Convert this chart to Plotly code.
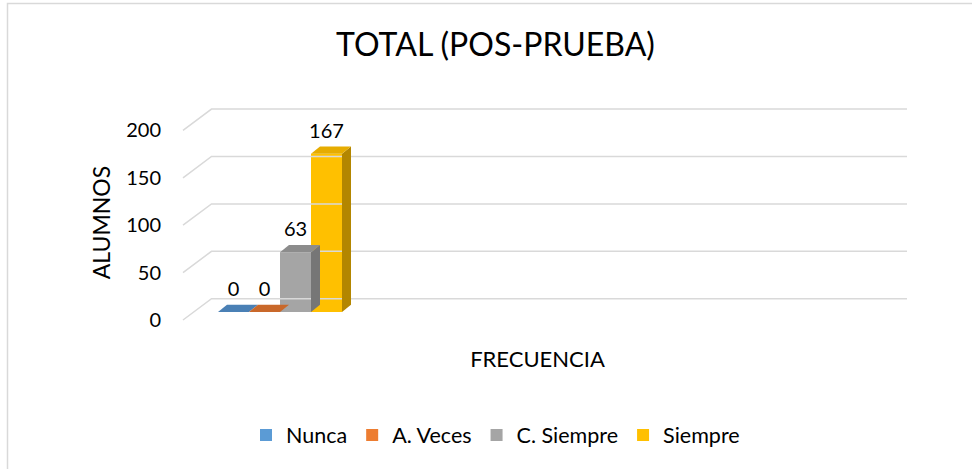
import plotly.graph_objects as go

# ---- data ----
series = ["Nunca", "A. Veces", "C. Siempre", "Siempre"]
values = [0, 0, 63, 167]
category = "FRECUENCIA"
y_ticks = [0, 50, 100, 150, 200]

# ---- styles ----
front_colors = ["#5B9BD5", "#ED7D31", "#A5A5A5", "#FFC000"]
top_colors = ["#4A80B5", "#C9682A", "#8C8C8C", "#E6AC00"]
side_colors = ["#3E6C99", "#A85723", "#767676", "#B38600"]
FONT = "Lato"

W, H = 972, 469
L_PX, R_PX = 168, 907          # plot area (x data == pixel)
T_PX, B_PX = 105, 340          # plot area top/bottom pixels
BASE_PX = 312                   # pixel of value 0 at bar front
K = 0.948                       # pixels per unit
y_range = [(BASE_PX - B_PX) / K, (BASE_PX - T_PX) / K]

GROUP_CENTER = 280
BAR_W = 31
DX = 9                         # depth offset (px)
DV = 7.3 / K                   # depth offset (units)
LABEL_DV = 3.5 / K
BACK_DV = (BASE_PX - 298.7) / K
FRONT_DV = (BASE_PX - 320) / K
GRID_FRONT_X, GRID_BACK_X, GRID_END_X = 183, 211.5, R_PX

fig = go.Figure()

# gridlines (3D wall + floor style)
for t in y_ticks:
    fig.add_trace(go.Scatter(
        x=[GRID_FRONT_X, GRID_BACK_X, GRID_END_X],
        y=[t + FRONT_DV, t + BACK_DV, t + BACK_DV],
        mode="lines", line=dict(color="#D9D9D9", width=1.5),
        hoverinfo="skip", showlegend=False))

centers = [GROUP_CENTER + (i - (len(series) - 1) / 2) * BAR_W for i in range(len(series))]

for i, (name, v) in enumerate(zip(series, values)):
    c = centers[i]
    xl, xr = c - BAR_W / 2, c + BAR_W / 2
    # front face
    fig.add_trace(go.Bar(
        x=[c], y=[v], width=BAR_W, name=name,
        marker=dict(color=front_colors[i], line=dict(width=0)),
        showlegend=True, hoverinfo="skip"))
    # side face
    if v > 0:
        fig.add_trace(go.Scatter(
            x=[xr, xr, xr + DX, xr + DX, xr], y=[0, v, v + DV, DV, 0],
            fill="toself", fillcolor=side_colors[i], mode="lines",
            line=dict(width=0, color=side_colors[i]),
            hoverinfo="skip", showlegend=False))
    # top face
    fig.add_trace(go.Scatter(
        x=[xl, xr, xr + DX, xl + DX, xl], y=[v, v, v + DV, v + DV, v],
        fill="toself", fillcolor=top_colors[i], mode="lines",
        line=dict(width=0, color=top_colors[i]),
        hoverinfo="skip", showlegend=False))

# data labels
fig.add_trace(go.Scatter(
    x=centers, y=[v + DV + LABEL_DV for v in values], mode="text",
    text=[str(v) for v in values], textposition="top center",
    textfont=dict(family=FONT, size=20, color="#000000"),
    cliponaxis=False, hoverinfo="skip", showlegend=False))

pw = R_PX - L_PX
ph = B_PX - T_PX

def px2paper_x(px):
    return (px - L_PX) / pw

def px2paper_y(py):
    return (B_PX - py) / ph

fig.update_layout(
    template="none",
    width=W, height=H,
    margin=dict(l=L_PX, r=W - R_PX, t=T_PX, b=H - B_PX, autoexpand=False),
    paper_bgcolor="white", plot_bgcolor="white",
    font=dict(family=FONT, size=20, color="#000000"),
    title=dict(text="TOTAL (POS-PRUEBA)", x=495.5 / W, xanchor="center",
               y=1 - 45 / H, yanchor="middle", xref="container", yref="container",
               font=dict(family=FONT, size=32, color="#000000")),
    barmode="overlay",
    showlegend=True,
    legend=dict(orientation="h", x=px2paper_x(246), xanchor="left",
                y=px2paper_y(435), yanchor="middle",
                font=dict(family=FONT, size=21.5, color="#000000"),
                traceorder="normal", itemwidth=30, bgcolor="rgba(0,0,0,0)"),
    xaxis=dict(range=[L_PX, R_PX], showgrid=False, zeroline=False,
               showline=False, showticklabels=False, ticks="",
               automargin=False, fixedrange=True,
               title=dict(text=category, standoff=11,
                          font=dict(family=FONT, size=22, color="#000000"))),
    yaxis=dict(range=y_range, showgrid=False, zeroline=False, showline=False,
               tickvals=[t + FRONT_DV for t in y_ticks],
               ticktext=[str(t) for t in y_ticks], ticks="",
               ticklabelstandoff=6,
               tickfont=dict(family=FONT, size=20, color="#000000"),
               automargin=False, fixedrange=True,
               title=dict(text="ALUMNOS", standoff=9,
                          font=dict(family=FONT, size=23, color="#000000"))),
    shapes=[dict(type="rect", xref="paper", yref="paper",
                 x0=px2paper_x(7.5), y0=px2paper_y(H + 20),
                 x1=px2paper_x(W + 20), y1=px2paper_y(3.5),
                 line=dict(color="#D9D9D9", width=1.5), fillcolor="rgba(0,0,0,0)",
                 layer="below")],
)

fig.write_html("out.html", config={"displayModeBar": False},
               post_script="document.body.style.margin='0px';")
